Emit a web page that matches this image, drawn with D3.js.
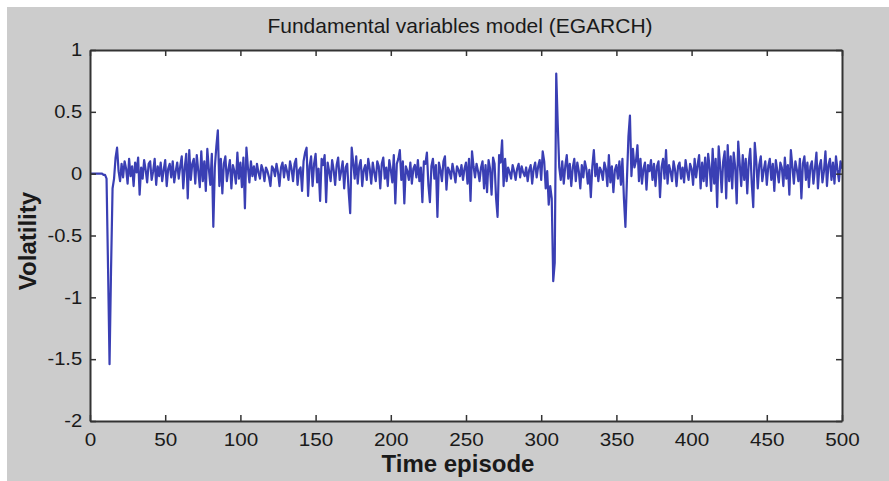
<!DOCTYPE html>
<html>
<head>
<meta charset="utf-8">
<script src="https://cdn.jsdelivr.net/npm/d3@7"></script>
<style>
  body { margin: 0; background: #ffffff; }
  svg { display: block; }
  text { font-family: "Liberation Sans", Arial, sans-serif; fill: #1a1a1a; }
</style>
</head>
<body>
<svg width="889" height="481"></svg>
<script>
// chart values (one row = 10 time episodes)
var volatility = [
  0, 0, 0, 0, 0, 0, 0, 0, 0, -0.01,
  -0.01, -0.04, -0.76, -1.54, -0.77, -0.12, -0.04, 0.13, 0.21, 0.02,
  -0.06, 0.08, -0.03, 0.1, 0.04, -0.08, 0.12, -0.02, 0.06, -0.1,
  0.09, 0.01, 0.13, -0.17, 0.05, -0.04, 0.11, 0.03, -0.07, 0.08,
  0.1, -0.05, 0.02, 0.12, -0.09, 0.06, -0.02, 0.09, -0.06, 0.03,
  0.11, -0.1, 0.04, 0.08, -0.03, 0.1, -0.07, 0.02, 0.09, -0.04,
  0.06, 0.14, -0.12, 0.05, 0.16, -0.2, 0.19, -0.05, 0.08, 0.12,
  -0.08, 0.15, 0.02, -0.11, 0.18, -0.06, 0.1, -0.14, 0.2, 0.04,
  -0.09, 0.16, -0.43, 0.05, 0.22, 0.35, -0.1, 0.12, -0.16, 0.08,
  0.14, -0.06, 0.03, 0.11, -0.12, 0.07, 0.02, -0.08, 0.17, -0.04,
  0.09, -0.11, 0.13, -0.28, 0.21, 0.05, -0.07, 0.1, -0.02, 0.06,
  -0.05, 0.08, 0.01, -0.04, 0.07, 0.03, -0.06, 0.05, 0.02, -0.03,
  -0.1, 0.06, 0.04, -0.02, 0.08, 0.01, -0.1, 0.05, 0.09, -0.03,
  0.07, 0.02, -0.05, 0.1, 0.04, -0.06, 0.08, 0.12, -0.09, 0.03,
  0.05, -0.14, 0.1, 0.17, 0.21, -0.18, 0.06, 0.14, -0.1, 0.08,
  0.16, -0.07, 0.04, -0.22, 0.12, 0.07, 0.15, -0.23, 0.09, 0.02,
  -0.06, 0.11, 0.03, -0.09, 0.07, 0.13, -0.05, 0.02, 0.1, -0.12,
  0.05, 0.08, -0.15, -0.32, 0.21, 0.09, -0.04, 0.14, -0.08, 0.06,
  0.11, -0.1, 0.03, 0.07, -0.05, 0.12, 0.04, -0.08, 0.09, 0.01,
  -0.06, 0.1, 0.06, -0.12, 0.08, 0.13, -0.04, 0.05, -0.1, 0.11,
  0.03, -0.07, 0.15, -0.24, 0.08, 0.12, 0.19, -0.05, 0.1, -0.24,
  0.06, 0.02, -0.05, 0.09, -0.08, 0.04, 0.07, -0.03, 0.11, -0.06,
  0.05, -0.23, 0.1, 0.08, 0.17, -0.09, -0.23, 0.06, 0.12, -0.04,
  0.07, -0.35, 0.09, 0.03, -0.06, 0.1, 0.14, -0.13, 0.05, 0.02,
  -0.04, 0.08, 0.01, -0.07, 0.06, 0.03, -0.02, 0.07, -0.05, 0.04,
  0.09, -0.08, 0.12, -0.22, 0.18, 0.06, -0.03, 0.08, 0.02, -0.06,
  0.05, 0.1, -0.12, 0.07, -0.15, 0.11, 0.04, -0.17, 0.13, 0.08,
  -0.2, -0.35, 0.15, 0.09, 0.27, -0.1, 0.12, -0.06, 0.05, 0.01,
  -0.04, 0.07, 0.02, -0.05, 0.04, 0.08, -0.03, 0.06, 0.01, -0.02,
  0.05, -0.06, 0.03, 0.07, -0.08, 0.04, 0.09, -0.03, 0.06, 0.11,
  -0.05, 0.18, 0.1, -0.12, 0.02, -0.25, -0.1, -0.2, -0.87, -0.72,
  0.81, 0.4, 0.05, -0.05, 0.1, -0.08, 0.06, 0.15, -0.04, 0.08,
  -0.1, 0.05, 0.12, -0.06, 0.09, 0.02, -0.12, 0.07, -0.03, 0.1,
  0.04, -0.08, 0.03, -0.19, 0.06, 0.19, -0.02, 0.08, -0.06, 0.05,
  0.02, -0.05, 0.09, 0.04, -0.1, 0.15, -0.07, 0.06, -0.15, 0.03,
  0.07, -0.04, 0.1, -0.09, 0.12, -0.2, -0.43, -0.05, 0.3, 0.47,
  -0.02, 0.2, 0.05, 0.1, 0.23, -0.06, 0.12, -0.08, 0.04, 0.09,
  -0.13, 0.07, 0.02, 0.11, -0.05, 0.08, -0.1, 0.06, 0.1, -0.19,
  0.05, 0.12, -0.04, 0.19, -0.08, 0.07, 0.02, -0.06, 0.1, 0.03,
  -0.1, 0.06, 0.09, -0.04, 0.05, -0.07, 0.11, 0.02, -0.05, 0.08,
  0.04, -0.09, 0.12, -0.03, 0.07, 0.15, -0.12, 0.09, -0.06, 0.13,
  -0.1, 0.16, 0.05, -0.14, 0.2, -0.08, 0.12, -0.27, 0.22, 0.06,
  -0.15, 0.1, 0.18, -0.2, 0.23, -0.06, 0.14, -0.12, 0.17, 0.05,
  -0.24, 0.26, 0.08, -0.1, 0.15, -0.05, 0.12, -0.16, 0.09, 0.2,
  -0.08, -0.27, 0.25, 0.1, -0.12, 0.07, 0.14, -0.06, 0.03, 0.1,
  -0.09, 0.06, 0.12, -0.05, 0.08, -0.14, 0.11, 0.02, -0.07, 0.09,
  0.05, -0.1, 0.13, -0.04, 0.07, -0.17, 0.19, 0.06, -0.08, 0.1,
  0.03, -0.06, 0.12, -0.2, 0.08, 0.14, -0.05, 0.09, -0.11, 0.06,
  0.1, -0.08, 0.04, 0.17, -0.12, 0.06, 0.11, -0.07, 0.02, 0.18,
  -0.1, 0.07, 0.12, -0.05, 0.09, -0.08, 0.14, 0.03, -0.06, 0.1,
  0.04
];
var xTicks = [0, 50, 100, 150, 200, 250, 300, 350, 400, 450, 500];
var yTicks = [-2, -1.5, -1, -0.5, 0, 0.5, 1];
var titleText = "Fundamental variables model (EGARCH)";
var xLabel = "Time episode";
var yLabel = "Volatility";

var svg = d3.select("svg");

// grey figure background, white margin on top/left like the original scan
svg.append("rect")
  .attr("x", 7).attr("y", 7)
  .attr("width", 882).attr("height", 474)
  .attr("fill", "#cccccc");

var margin = { top: 50, right: 47, bottom: 60, left: 90 },
  width = 889 - margin.left - margin.right,
  height = 481 - margin.top - margin.bottom;

var xScale = d3.scaleLinear().domain([0, 500]).range([0, width]);
var yScale = d3.scaleLinear().domain([-2, 1]).range([height, 0]);

var g = svg.append("g")
  .attr("transform", "translate(" + margin.left + "," + margin.top + ")");

g.append("rect")
  .attr("width", width).attr("height", height)
  .attr("fill", "#ffffff");

var line = d3.line()
  .x(function (d, i) { return xScale(i); })
  .y(function (d) { return yScale(d); });

g.append("path")
  .datum(volatility)
  .attr("fill", "none")
  .attr("stroke", "#3a3fb4")
  .attr("stroke-width", 2.2)
  .attr("stroke-linejoin", "round")
  .attr("d", line);

// axes: inward ticks on all four sides (box on)
var axisColor = "#333333";
var plainNum = function (d) { return String(d); };
var xAxis = g.append("g")
  .attr("transform", "translate(0," + height + ")")
  .call(d3.axisBottom(xScale).tickValues(xTicks).tickSizeInner(-6).tickSizeOuter(0).tickPadding(12)
    .tickFormat(plainNum));
var yAxis = g.append("g")
  .call(d3.axisLeft(yScale).tickValues(yTicks).tickSizeInner(-6).tickSizeOuter(0).tickPadding(7)
    .tickFormat(plainNum));
var topAxis = g.append("g")
  .call(d3.axisTop(xScale).tickValues(xTicks).tickSizeInner(-6).tickSizeOuter(0).tickFormat(""));
var rightAxis = g.append("g")
  .attr("transform", "translate(" + width + ",0)")
  .call(d3.axisRight(yScale).tickValues(yTicks).tickSizeInner(-6).tickSizeOuter(0).tickFormat(""));

[xAxis, yAxis, topAxis, rightAxis].forEach(function (a) {
  a.select(".domain").attr("stroke", axisColor).attr("stroke-width", 2);
  a.selectAll(".tick line").attr("stroke", axisColor).attr("stroke-width", 1.5);
});
xAxis.selectAll(".tick text")
  .style("font-size", "18px").attr("fill", "#1a1a1a")
  .attr("transform", "scale(1.15,1)");
yAxis.selectAll(".tick text")
  .style("font-size", "18px").attr("fill", "#1a1a1a")
  .attr("transform", "scale(1.12,1)");

svg.append("text")
  .attr("x", 460).attr("y", 33)
  .attr("text-anchor", "middle")
  .style("font-size", "21px")
  .text(titleText);

svg.append("text")
  .attr("x", 458).attr("y", 472)
  .attr("text-anchor", "middle")
  .style("font-size", "24px").style("font-weight", "bold")
  .text(xLabel);

svg.append("text")
  .attr("transform", "translate(36,241) rotate(-90)")
  .attr("text-anchor", "middle")
  .style("font-size", "24px").style("font-weight", "bold")
  .text(yLabel);
</script>
</body>
</html>
